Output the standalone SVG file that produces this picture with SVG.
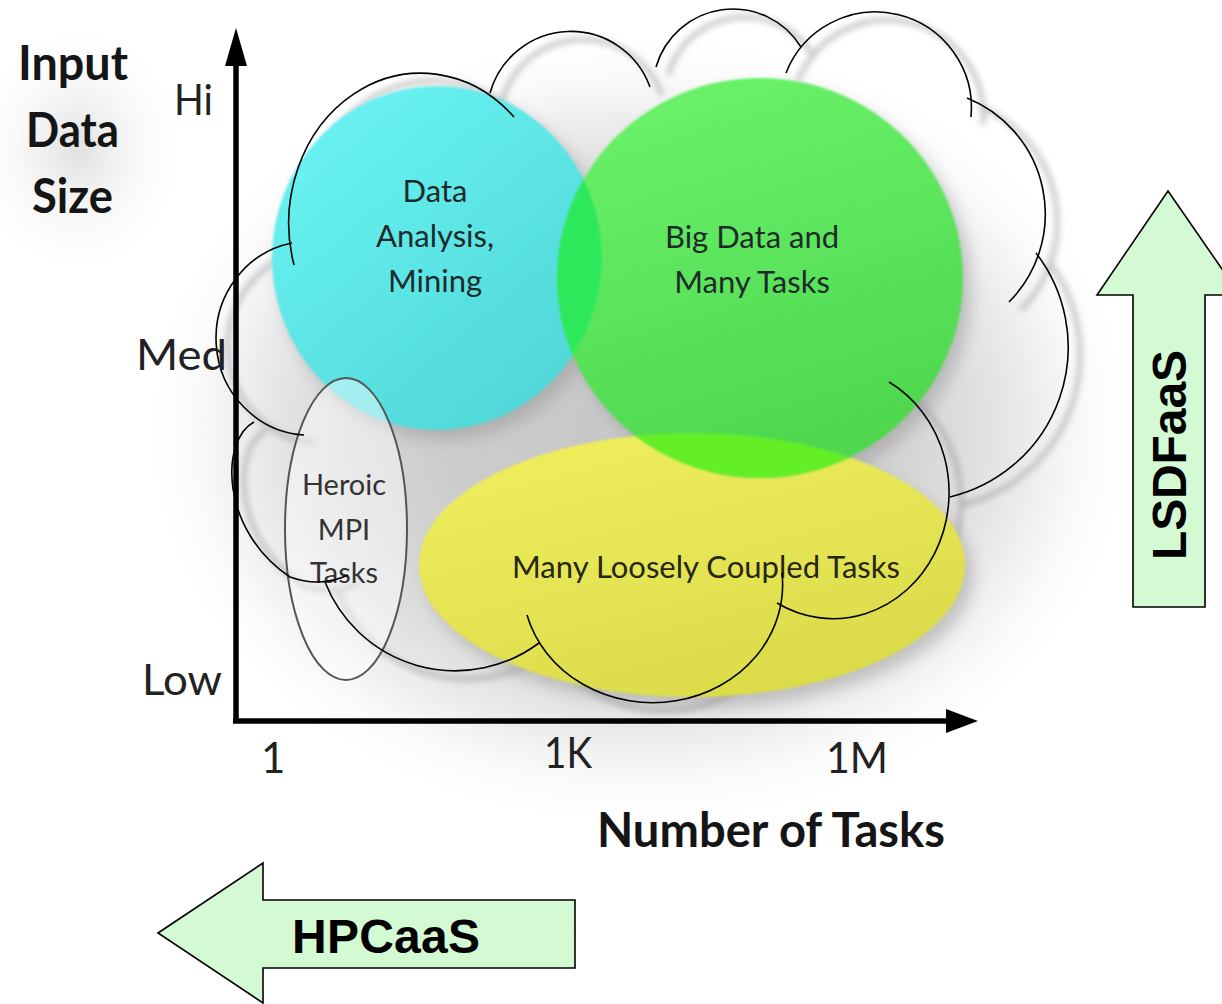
<svg xmlns="http://www.w3.org/2000/svg" width="1222" height="1004" viewBox="0 0 1222 1004">
<defs>
  <style>
    .lbl{font-family:Lato,"Open Sans","Liberation Sans",sans-serif;fill:#222;}
    .axl{font-size:42px;}
    .ttl{font-size:47px;font-weight:bold;fill:#151515;}
    .bub{font-size:31px;fill:#1d2a2a;text-anchor:middle;}
    .cloud{fill:none;stroke:#000;stroke-width:1.6;}
    .cshadow{fill:none;stroke:#8a8a8a;stroke-width:4;}
    .big{fill:#d4fad4;stroke:#000;stroke-width:1.6;}
    .bigt{font-family:"Liberation Sans",Arial,sans-serif;font-weight:bold;font-size:48px;fill:#000;}
  </style>
  <radialGradient id="bg" cx="640" cy="430" r="1" gradientUnits="userSpaceOnUse" gradientTransform="translate(640 430) scale(460 360) translate(-640 -430)" fx="640" fy="430">
    <stop offset="0" stop-color="#c6c6c6"/>
    <stop offset="0.5" stop-color="#cecece"/>
    <stop offset="0.8" stop-color="#e4e4e4"/>
    <stop offset="1" stop-color="#ffffff"/>
  </radialGradient>
  <radialGradient id="glow" cx="0.5" cy="0.5" r="0.5">
    <stop offset="0" stop-color="#e0e0e0"/>
    <stop offset="1" stop-color="#ffffff" stop-opacity="0"/>
  </radialGradient>
  <linearGradient id="gCyan" x1="0" y1="0" x2="0.8" y2="1">
    <stop offset="0" stop-color="#6df6f6"/>
    <stop offset="1" stop-color="#4fd6d6"/>
  </linearGradient>
  <linearGradient id="gGreen" x1="0" y1="0" x2="0.3" y2="1">
    <stop offset="0" stop-color="#6cf56c"/>
    <stop offset="1" stop-color="#4fd84f"/>
  </linearGradient>
  <linearGradient id="gYellow" x1="0" y1="0" x2="0.5" y2="1">
    <stop offset="0" stop-color="#f0f060"/>
    <stop offset="1" stop-color="#dcdc4c"/>
  </linearGradient>
  <filter id="blur30" x="-30%" y="-30%" width="160%" height="160%"><feGaussianBlur stdDeviation="30"/></filter>
  <filter id="blur8" x="-20%" y="-20%" width="140%" height="140%"><feGaussianBlur stdDeviation="8"/></filter>
  <filter id="blur3" x="-10%" y="-10%" width="120%" height="120%"><feGaussianBlur stdDeviation="3"/></filter>
  <filter id="soft" x="-5%" y="-5%" width="110%" height="110%"><feGaussianBlur stdDeviation="1.2"/></filter>
  <clipPath id="clipCyan"><ellipse cx="437" cy="258" rx="165" ry="172"/></clipPath>
  <clipPath id="clipYellow"><ellipse cx="692" cy="565" rx="273" ry="132"/></clipPath>
</defs>

<rect x="0" y="0" width="1222" height="1004" fill="#ffffff"/>

<g id="background">
  <ellipse cx="640" cy="430" rx="460" ry="360" fill="url(#bg)" filter="url(#blur30)"/>
  <ellipse cx="78" cy="150" rx="115" ry="135" fill="url(#glow)"/>
</g>

<g id="cloud-shadow" transform="translate(12 8)" filter="url(#blur3)" opacity="0.6">
  <path class="cshadow" d="M490,93 A84,84 0 0 1 650,87"/>
  <path class="cshadow" d="M656,67 A80,80 0 0 1 801,47"/>
  <path class="cshadow" d="M786,73 A96,96 0 0 1 971,117"/>
  <path class="cshadow" d="M967,98 A125,125 0 0 1 1009,302"/>
  <path class="cshadow" d="M1036,253 A154,154 0 0 1 950,497"/>
  <path class="cshadow" d="M889,382 A115,125 0 1 1 777,603"/>
  <path class="cshadow" d="M782,573 A130,118 0 0 1 527,615"/>
  <path class="cshadow" d="M539,643 A140,140 0 0 1 325,582"/>
  <path class="cshadow" d="M254,422 C220,440 220,530 290,577 Q320,588 348,575"/>
  <path class="cshadow" d="M304,435 A94,97 0 0 1 292,243"/>
  <path class="cshadow" d="M294,265 A132,150 0 0 1 514,117"/>
</g>

<g id="bubble-shadows" filter="url(#blur8)" fill="#8f8f8f" opacity="0.45">
  <ellipse cx="445" cy="268" rx="165" ry="172"/>
  <ellipse cx="768" cy="288" rx="203" ry="200"/>
  <ellipse cx="700" cy="575" rx="273" ry="132"/>
</g>

<g id="node-data-analysis" filter="url(#soft)">
  <ellipse cx="437" cy="258" rx="165" ry="172" fill="url(#gCyan)"/>
</g>
<g id="node-many-loosely" filter="url(#soft)">
  <ellipse cx="692" cy="565" rx="273" ry="132" fill="url(#gYellow)"/>
</g>
<g id="node-big-data" filter="url(#soft)">
  <ellipse cx="760" cy="278" rx="203" ry="200" fill="url(#gGreen)"/>
  <ellipse cx="760" cy="278" rx="203" ry="200" fill="#2ee85c" clip-path="url(#clipCyan)"/>
  <ellipse cx="760" cy="278" rx="203" ry="200" fill="#64ee28" clip-path="url(#clipYellow)"/>
</g>
<g id="node-heroic">
  <ellipse cx="346" cy="529" rx="61" ry="151" fill="#ffffff" fill-opacity="0.45" stroke="#555" stroke-width="2"/>
</g>

<g id="bubble-labels" class="lbl">
  <text class="lbl bub" x="435" y="202">Data</text>
  <text class="lbl bub" x="435" y="247">Analysis,</text>
  <text class="lbl bub" x="435" y="292">Mining</text>
  <text class="lbl bub" x="752" y="248">Big Data and</text>
  <text class="lbl bub" x="752" y="293">Many Tasks</text>
  <text class="lbl bub" x="344" y="495" style="font-size:29px;fill:#333">Heroic</text>
  <text class="lbl bub" x="344" y="540" style="font-size:29px;fill:#333">MPI</text>
  <text class="lbl bub" x="344" y="583" style="font-size:29px;fill:#333">Tasks</text>
  <text class="lbl bub" x="706" y="578" textLength="388" style="fill:#262613">Many Loosely Coupled Tasks</text>
</g>

<g id="connectors">
  <g id="axes" fill="#000">
    <line x1="236" y1="723" x2="236" y2="60" stroke="#000" stroke-width="5.5"/>
    <polygon points="236,28 225,66 247,66"/>
    <line x1="233" y1="721" x2="950" y2="721" stroke="#000" stroke-width="5.5"/>
    <polygon points="978,721 946,709 946,733"/>
  </g>
  <g id="cloud-outline">
    <path class="cloud" d="M490,93 A84,84 0 0 1 650,87"/>
    <path class="cloud" d="M656,67 A80,80 0 0 1 801,47"/>
    <path class="cloud" d="M786,73 A96,96 0 0 1 971,117"/>
    <path class="cloud" d="M967,98 A125,125 0 0 1 1009,302"/>
    <path class="cloud" d="M1036,253 A154,154 0 0 1 950,497"/>
    <path class="cloud" d="M889,382 A115,125 0 1 1 777,603"/>
    <path class="cloud" d="M782,573 A130,118 0 0 1 527,615"/>
    <path class="cloud" d="M539,643 A140,140 0 0 1 325,582"/>
    <path class="cloud" d="M254,422 C220,440 220,530 290,577 Q320,588 348,575"/>
    <path class="cloud" d="M304,435 A94,97 0 0 1 292,243"/>
    <path class="cloud" d="M294,265 A132,150 0 0 1 514,117"/>
  </g>
</g>

<g id="axis-labels">
  <text class="lbl ttl" x="18" y="80" textLength="110" lengthAdjust="spacingAndGlyphs">Input</text>
  <text class="lbl ttl" x="26" y="147" textLength="93" lengthAdjust="spacingAndGlyphs">Data</text>
  <text class="lbl ttl" x="32" y="213" textLength="81" lengthAdjust="spacingAndGlyphs">Size</text>
  <text class="lbl axl" x="174" y="115" textLength="39" lengthAdjust="spacingAndGlyphs">Hi</text>
  <text class="lbl axl" x="136" y="370" textLength="91" lengthAdjust="spacingAndGlyphs">Med</text>
  <text class="lbl axl" x="142" y="695" textLength="80" lengthAdjust="spacingAndGlyphs">Low</text>
  <text class="lbl axl" x="261" y="773">1</text>
  <text class="lbl axl" x="544" y="768" textLength="48" lengthAdjust="spacingAndGlyphs">1K</text>
  <text class="lbl axl" x="826" y="773" textLength="62" lengthAdjust="spacingAndGlyphs">1M</text>
  <text class="lbl ttl" x="597" y="847" textLength="348" lengthAdjust="spacingAndGlyphs">Number of Tasks</text>
</g>

<g id="node-lsdfaas">
  <polygon class="big" points="1168,191 1097,295 1133,295 1133,607 1205,607 1205,295 1240,295"/>
  <text class="bigt" transform="translate(1186 560) rotate(-90)" textLength="210">LSDFaaS</text>
</g>

<g id="node-hpcaas">
  <polygon class="big" points="158,933 263,863 263,900 575,900 575,968 263,968 263,1003"/>
  <text class="bigt" x="292" y="953" textLength="188">HPCaaS</text>
</g>
</svg>
